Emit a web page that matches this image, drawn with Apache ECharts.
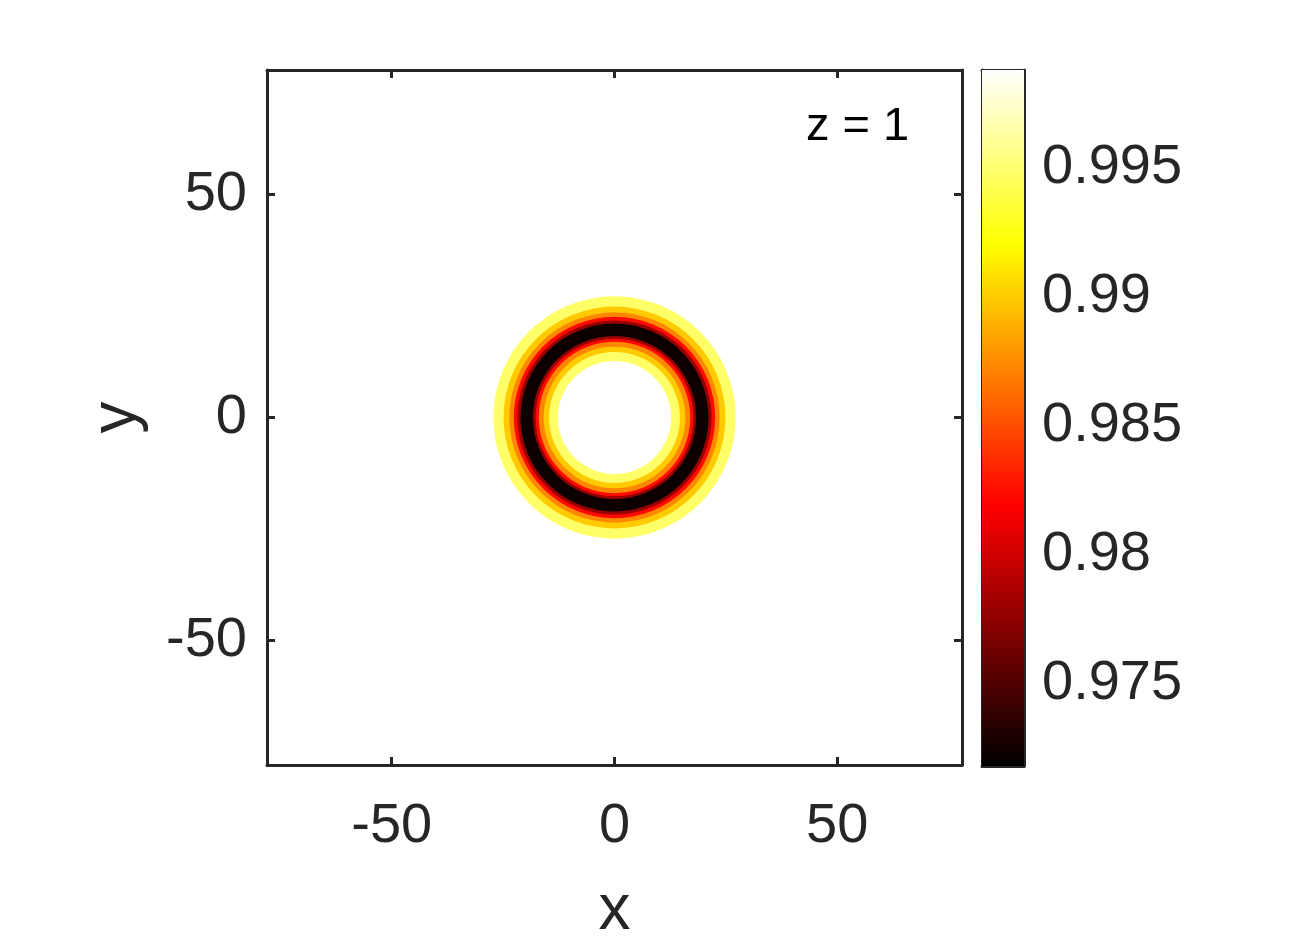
<!DOCTYPE html>
<html>
<head>
<meta charset="utf-8">
<script src="https://cdn.jsdelivr.net/npm/echarts@6/dist/echarts.min.js"></script>
<style>
  html, body { margin: 0; padding: 0; background: #fff; }
  #chart { width: 1292px; height: 948px; }
</style>
</head>
<body>
<div id="chart"></div>
<script>
// axis ranges and ticks
const axisRange = [-78, 78];
const xTicks = [-50, 0, 50];
const yTicks = [-50, 0, 50];
const colorRange = [0.9718, 0.9988];
const colorTicks = [0.975, 0.98, 0.985, 0.99, 0.995];

// filled contour bands of the ring, outermost first (outer radius, level)
const ringCenter = [0, 0];
const bandRadii = [27.2, 24.9, 23.6, 22.6, 21.8, 21.1, 18.3, 17.7, 17.0, 15.9, 14.7, 12.7];
const bandValues = [0.9948, 0.9900, 0.9873, 0.9823, 0.9779, 0.9723, 0.9779, 0.9823, 0.9873, 0.9900, 0.9948, 0.9988];

const annotation = 'z = 1';
const xName = 'x';
const yName = 'y';

// matlab "hot" colormap, evenly spaced stops
const hotColors = ['#000000', '#550000', '#aa0000', '#ff0000', '#ff5500', '#ffaa00', '#ffff00', '#ffff80', '#ffffff'];

const fontFamily = '"Liberation Sans", Arial, sans-serif';
const lineColor = '#262626';

const chart = echarts.init(document.getElementById('chart'));

function frameAxis(extra) {
    return Object.assign({
        type: 'value',
        axisLine: { show: true, onZero: false, lineStyle: { color: lineColor, width: 3 } },
        axisTick: { show: false },
        axisLabel: { show: false },
        splitLine: { show: false }
    }, extra);
}

const mainTick = { show: true, inside: true, length: 8, lineStyle: { color: lineColor, width: 3 } };
const mainLabel = { show: true, color: lineColor, fontSize: 56, fontFamily: fontFamily };

const option = {
    backgroundColor: '#fff',
    animation: false,
    grid: [
        { left: 267, top: 70, width: 695, height: 696, containLabel: false },
        { left: 982, top: 70, width: 42, height: 696, containLabel: false }
    ],
    xAxis: [
        frameAxis({
            gridIndex: 0, position: 'bottom', min: axisRange[0], max: axisRange[1],
            axisTick: Object.assign({ customValues: xTicks }, mainTick),
            axisLabel: Object.assign({ customValues: xTicks, margin: 34 }, mainLabel),
            name: xName, nameLocation: 'middle', nameGap: 114,
            nameTextStyle: { color: lineColor, fontSize: 64, fontFamily: fontFamily }
        }),
        frameAxis({
            gridIndex: 0, position: 'top', min: axisRange[0], max: axisRange[1],
            axisTick: Object.assign({ customValues: xTicks }, mainTick)
        }),
        frameAxis({ gridIndex: 1, position: 'bottom', min: 0, max: 1 }),
        frameAxis({ gridIndex: 1, position: 'top', min: 0, max: 1 })
    ],
    yAxis: [
        frameAxis({
            gridIndex: 0, position: 'left', min: axisRange[0], max: axisRange[1],
            axisTick: Object.assign({ customValues: yTicks }, mainTick),
            axisLabel: Object.assign({ customValues: yTicks, margin: 20 }, mainLabel),
            name: yName, nameLocation: 'middle', nameGap: 118, nameRotate: 90,
            nameTextStyle: { color: lineColor, fontSize: 64, fontFamily: fontFamily }
        }),
        frameAxis({
            gridIndex: 0, position: 'right', min: axisRange[0], max: axisRange[1],
            axisTick: Object.assign({ customValues: yTicks }, mainTick)
        }),
        frameAxis({ gridIndex: 1, position: 'left', min: colorRange[0], max: colorRange[1] }),
        frameAxis({
            gridIndex: 1, position: 'right', min: colorRange[0], max: colorRange[1],
            axisTick: Object.assign({ customValues: colorTicks }, mainTick, { length: 7 }),
            axisLabel: Object.assign({ customValues: colorTicks, margin: 18 }, mainLabel)
        })
    ],
    visualMap: {
        type: 'continuous',
        show: false,
        seriesIndex: 0,
        dimension: 1,
        min: colorRange[0],
        max: colorRange[1],
        inRange: { color: hotColors }
    },
    graphic: [{
        type: 'text',
        left: 806,
        top: 104,
        style: { text: annotation, fontSize: 47, fontFamily: fontFamily, fill: '#000' }
    }],
    series: [
        {
            type: 'custom',
            xAxisIndex: 0,
            yAxisIndex: 0,
            data: bandRadii.map((r, i) => [r, bandValues[i]]),
            encode: { x: 0, y: 1 },
            renderItem: function (params, api) {
                const c = api.coord(ringCenter);
                const r = api.size([api.value(0), 0])[0];
                return {
                    type: 'circle',
                    shape: { cx: c[0], cy: c[1], r: r },
                    style: { fill: api.visual('color') }
                };
            }
        },
        {
            type: 'custom',
            xAxisIndex: 2,
            yAxisIndex: 2,
            data: [[0, 1, colorRange[0], colorRange[1]]],
            encode: { x: [0, 1], y: [2, 3] },
            renderItem: function (params, api) {
                const p0 = api.coord([api.value(0), api.value(3)]);
                const p1 = api.coord([api.value(1), api.value(2)]);
                const stops = hotColors.map((c, i) => ({ offset: i / (hotColors.length - 1), color: c }));
                return {
                    type: 'rect',
                    shape: { x: p0[0], y: p0[1], width: p1[0] - p0[0], height: p1[1] - p0[1] },
                    style: { fill: new echarts.graphic.LinearGradient(0, 1, 0, 0, stops) },
                    z2: -1
                };
            }
        }
    ]
};

chart.setOption(option);
</script>
</body>
</html>
